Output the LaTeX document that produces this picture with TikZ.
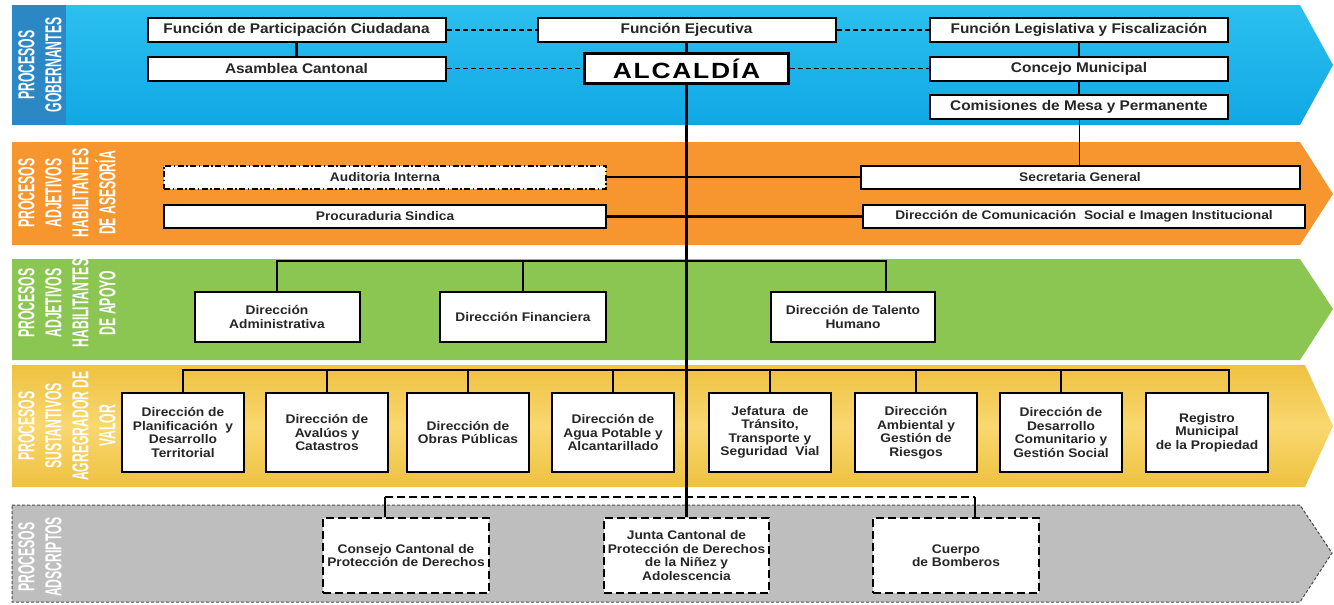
\documentclass[tikz,border=0pt]{standalone}
\usepackage{fontspec}
\setmainfont{Liberation Sans}
\newfontfamily\boxfont[FakeStretch=1.1]{Liberation Sans}
\newfontfamily\lblfont[FakeStretch=0.53]{Liberation Sans}
\newfontfamily\alcfont[FakeStretch=1.2,LetterSpace=8]{Liberation Sans}
\definecolor{txt}{HTML}{262626}
\definecolor{bandblue}{HTML}{10A8E4}
\definecolor{bandbluetop}{HTML}{2CC0F0}
\definecolor{stripblue}{HTML}{2B88C4}
\definecolor{bandorange}{HTML}{F7962E}
\definecolor{bandgreen}{HTML}{8CC652}
\definecolor{bandyellow}{HTML}{F9D870}
\definecolor{bandyellowedge}{HTML}{EEC140}
\definecolor{bandgray}{HTML}{BEBEBE}
\begin{document}
\begin{tikzpicture}[x=1pt,y=-1pt,
  bx/.style={draw=black, line width=2pt, fill=white, inner sep=1pt, align=center, text=txt,
    font=\boxfont\bfseries\fontsize{12.5}{13.5}\selectfont},
  bxb/.style={bx, minimum width=298pt, minimum height=24pt, font=\boxfont\bfseries\fontsize{14}{16}\selectfont},
  bxo/.style={bx, minimum height=23pt},
  bxg/.style={bx, minimum height=50pt},
  bxy/.style={bx, minimum width=122pt, minimum height=79pt},
  bxd/.style={bx, dash pattern=on 8pt off 4pt, line width=2.2pt, minimum width=166pt, minimum height=75pt},
  conn/.style={line width=2.2pt, draw=black},
  dconn/.style={conn, line width=1.8pt, dash pattern=on 5pt off 3pt},
  lbl/.style={rotate=90, align=center, text=white, inner sep=0pt,
    font=\lblfont\bfseries\fontsize{23}{27}\selectfont},
]
\useasboundingbox (0,0) rectangle (1334,605);
\fill[white] (0,0) rectangle (1334,605);
% bands
\shade[top color=bandbluetop, bottom color=bandblue] (12,5) -- (1300,5) -- (1333,65) -- (1300,125) -- (12,125) -- cycle;
\fill[stripblue] (12,5) rectangle (66,125);
\fill[bandorange] (12,142) -- (1300,142) -- (1333,194) -- (1300,245) -- (12,245) -- cycle;
\fill[bandgreen] (12,259) -- (1300,259) -- (1333,309) -- (1300,360) -- (12,360) -- cycle;
\shade[top color=bandyellowedge, bottom color=bandyellowedge, middle color=bandyellow]
  (12,365) -- (1305,365) -- (1333,426) -- (1305,487) -- (12,487) -- cycle;
\filldraw[fill=bandgray, draw=black!70, line width=1pt, dash pattern=on 3pt off 2pt]
  (12,505) -- (1300,505) -- (1332,553) -- (1300,602) -- (12,602) -- cycle;
% band labels
\node[lbl] (l1) at (40,65) {PROCESOS\\GOBERNANTES};
\node[lbl] (l2) at (67,193) {PROCESOS\\ADJETIVOS\\HABILITANTES\\DE ASESORÍA};
\node[lbl] (l3) at (67,303) {PROCESOS\\ADJETIVOS\\HABILITANTES\\DE APOYO};
\node[lbl] (l4) at (67,426) {PROCESOS\\SUSTANTIVOS\\AGREGRADOR DE\\VALOR};
\node[lbl] (l5) at (40,557) {PROCESOS\\ADSCRIPTOS};
% governing nodes
\node[bxb] (fpc) at (296.5,30) {Función de Participación Ciudadana};
\node[bxb] (fe)  at (686.5,30) {Función Ejecutiva};
\node[bxb] (flf) at (1079,30) {Función Legislativa y Fiscalización};
\node[bxb] (ac)  at (296.5,68.5) {Asamblea Cantonal};
\node[bx, line width=2.8pt, minimum width=204pt, minimum height=30pt,
  font=\alcfont\bfseries\fontsize{22}{24}\selectfont, text=black] (alc) at (686.5,68.5) {ALCALDÍA};
\node[bxb] (cm)  at (1079,68.5) {Concejo Municipal};
\node[bxb] (com) at (1079,106.5) {Comisiones de Mesa y Permanente};
% advisory
\node[bxo, minimum width=442pt, dash pattern=on 6pt off 2.5pt on 1.5pt off 2.5pt] (ai) at (385,177) {Auditoria Interna};
\node[bxo, minimum width=442pt] (ps) at (385,216.5) {Procuraduria Sindica};
\node[bxo, minimum width=439pt] (sg) at (1080,177) {Secretaria General};
\node[bxo, minimum width=442pt] (dc) at (1084,216.5) {Dirección de Comunicación\ \ Social e Imagen Institucional};
% support
\node[bxg, minimum width=165pt] (da) at (277,317) {Dirección\\Administrativa};
\node[bxg, minimum width=166pt] (df) at (523,317) {Dirección Financiera};
\node[bxg, minimum width=164pt] (dth) at (853,317) {Dirección de Talento\\Humano};
% value chain
\node[bxy] (y1) at (183,432.5) {Dirección de\\Planificación\ \ y\\Desarrollo\\Territorial};
\node[bxy] (y2) at (327,432.5) {Dirección de\\Avalúos y\\Catastros};
\node[bxy] (y3) at (468,432.5) {Dirección de\\Obras Públicas};
\node[bxy] (y4) at (613,432.5) {Dirección de\\Agua Potable y\\Alcantarillado};
\node[bxy] (y5) at (770,432.5) {Jefatura\ \ de\\Tránsito,\\Transporte y\\Seguridad\ \ Vial};
\node[bxy] (y6) at (916,432.5) {Dirección\\Ambiental y\\Gestión de\\Riesgos};
\node[bxy] (y7) at (1061,432.5) {Dirección de\\Desarrollo\\Comunitario y\\Gestión Social};
\node[bxy] (y8) at (1207,432.5) {Registro\\Municipal\\de la Propiedad};
% attached
\node[bxd] (cc) at (406,555.5) {Consejo Cantonal de\\Protección de Derechos};
\node[bxd, minimum width=165pt] (jc) at (686.5,555.5) {Junta Cantonal de\\Protección de Derechos\\de la Niñez y\\Adolescencia};
\node[bxd] (cb) at (956,555.5) {Cuerpo\\de Bomberos};
% connectors governing
\draw[dconn] (fpc.east) -- (fe.west);
\draw[dconn] (fe.east) -- (flf.west);
\draw[dconn] (ac.east) -- (alc.west);
\draw[dconn] (alc.east) -- (cm.west);
\draw[conn] (fpc) -- (ac);
\draw[conn] (fe) -- (alc);
\draw[conn] (flf) -- (cm);
\draw[conn] (cm) -- (com);
\draw[line width=1pt] (com.south) -- (com.south |- sg.north);
% main spine
\draw[conn] (alc.south) -- (jc.north);
% advisory connectors
\draw[conn] (ai.east) -- (sg.west);
\draw[conn] (ps.east) -- (dc.west);
% support connectors
\coordinate (gL) at (277,261);
\coordinate (gR) at (886,261);
\draw[conn] (da.north) -- (gL) -- (gR) -- (gR |- dth.north);
\draw[conn] (df.north) -- (df.north |- gL);
% value chain connectors
\coordinate (yL) at (183,370);
\coordinate (yR) at (1229,370);
\draw[conn] (y1.north) -- (yL) -- (yR) -- (yR |- y8.north);
\foreach \n in {y2,y3,y4,y5,y6,y7} \draw[conn] (\n.north) -- (\n.north |- yL);
% attached connectors
\coordinate (aL) at (385,497);
\coordinate (aR) at (975,497);
\draw[conn, dash pattern=on 8pt off 4pt] (aL) -- (aR);
\draw[conn] (aL) -- (aL |- cc.north);
\draw[conn] (aR) -- (aR |- cb.north);
\end{tikzpicture}
\end{document}
